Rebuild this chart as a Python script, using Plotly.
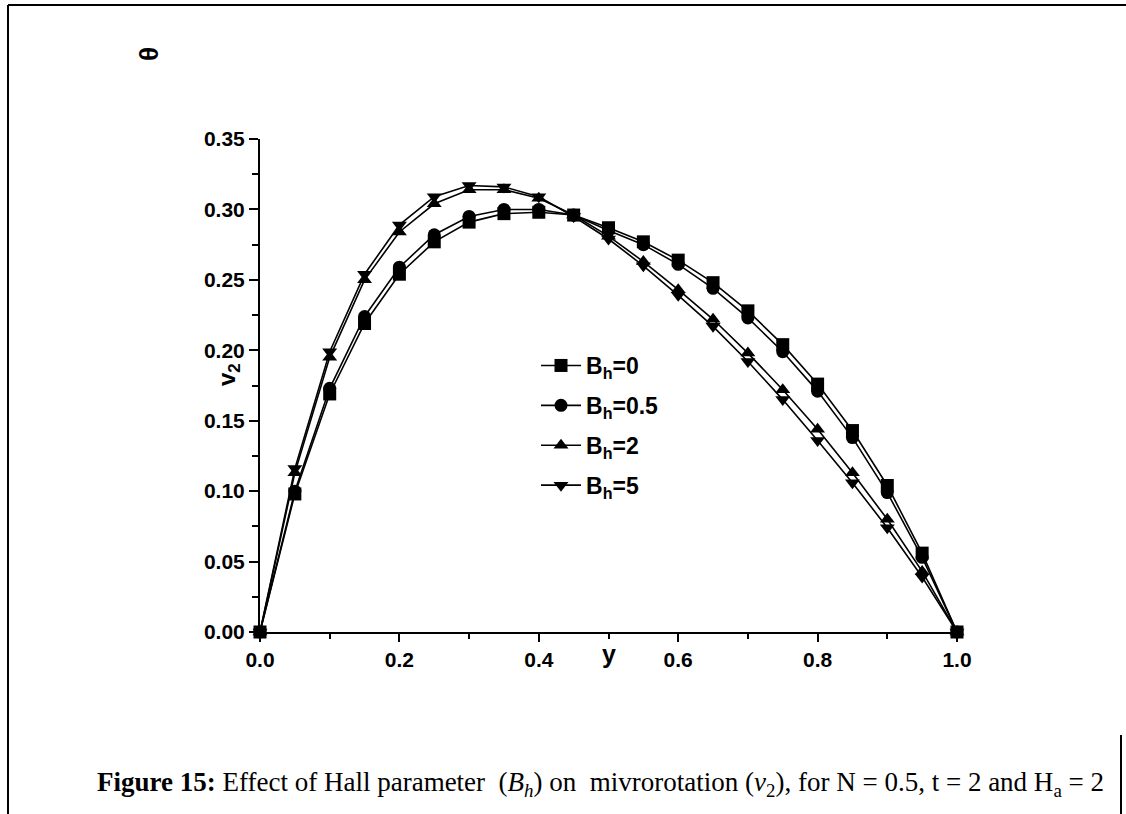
import plotly.graph_objects as go

y_pos = [0.0, 0.05, 0.1, 0.15, 0.2, 0.25, 0.3, 0.35, 0.4, 0.45, 0.5,
         0.55, 0.6, 0.65, 0.7, 0.75, 0.8, 0.85, 0.9, 0.95, 1.0]

v2_bh0 = [0.0, 0.098, 0.169, 0.219, 0.254, 0.277, 0.291, 0.297, 0.298, 0.296, 0.287,
          0.277, 0.264, 0.248, 0.228, 0.204, 0.176, 0.143, 0.104, 0.056, 0.0]
v2_bh05 = [0.0, 0.100, 0.173, 0.224, 0.259, 0.282, 0.295, 0.300, 0.300, 0.296, 0.285,
           0.275, 0.261, 0.244, 0.223, 0.199, 0.171, 0.138, 0.099, 0.053, 0.0]
v2_bh2 = [0.0, 0.113, 0.195, 0.250, 0.284, 0.304, 0.314, 0.314, 0.308, 0.296, 0.281,
          0.263, 0.243, 0.222, 0.198, 0.172, 0.144, 0.113, 0.080, 0.043, 0.0]
v2_bh5 = [0.0, 0.116, 0.199, 0.254, 0.289, 0.309, 0.317, 0.316, 0.309, 0.295, 0.279,
          0.260, 0.239, 0.217, 0.192, 0.165, 0.136, 0.106, 0.074, 0.039, 0.0]

series_names = ["B<sub>h</sub>=0", "B<sub>h</sub>=0.5", "B<sub>h</sub>=2", "B<sub>h</sub>=5"]
series_vals = [v2_bh0, v2_bh05, v2_bh2, v2_bh5]
symbols = ["square", "circle", "triangle-up", "triangle-down"]

W, H = 1126, 814
ML, MR, MT, MB = 260, 169, 139, 182
PW, PH = W - ML - MR, H - MT - MB


def px(xp):
    return (xp - ML) / PW


def py(yp):
    return (H - MB - yp) / PH


fig = go.Figure()
for i, (name, vals, sym) in enumerate(zip(series_names, series_vals, symbols)):
    fig.add_trace(go.Scatter(
        x=y_pos, y=vals, name=name, mode="lines+markers",
        legendgroup=f"g{i}",
        line=dict(color="black", width=1.6),
        marker=dict(symbol=sym, size=13, color="black"),
        cliponaxis=False,
    ))

axis_font = dict(family="Liberation Sans, Arial", size=21, color="black", weight="bold")
fig.update_layout(
    width=W, height=H,
    margin=dict(l=ML, r=MR, t=MT, b=MB, pad=0),
    paper_bgcolor="white", plot_bgcolor="white",
    showlegend=True,
    legend=dict(
        x=px(536), y=py(344), xanchor="left", yanchor="top",
        bgcolor="rgba(0,0,0,0)",
        font=dict(family="Liberation Sans, Arial", size=23, color="black", weight="bold"),
        tracegroupgap=7, itemwidth=40,
    ),
    xaxis=dict(
        range=[0, 1.0], showgrid=False, zeroline=False,
        showline=True, linecolor="black", linewidth=2,
        ticks="outside", ticklen=8, tickwidth=2, tickcolor="black",
        tickvals=[0, 0.2, 0.4, 0.6, 0.8, 1.0],
        ticktext=["0.0", "0.2", "0.4", "0.6", "0.8", "1.0"],
        tickfont=axis_font,
        minor=dict(ticks="outside", ticklen=5, tickwidth=2, tickcolor="black", dtick=0.1),
    ),
    yaxis=dict(
        range=[0, 0.35], showgrid=False, zeroline=False,
        showline=True, linecolor="black", linewidth=2,
        ticks="outside", ticklen=9, tickwidth=2, tickcolor="black",
        tickvals=[0, 0.05, 0.1, 0.15, 0.2, 0.25, 0.3, 0.35],
        ticktext=["0.00", "0.05", "0.10", "0.15", "0.20", "0.25", "0.30", "0.35"],
        tickfont=axis_font,
        minor=dict(ticks="outside", ticklen=6, tickwidth=2, tickcolor="black", dtick=0.025),
    ),
)

# axis titles and stray label
fig.add_annotation(x=px(609), y=py(670), xref="paper", yref="paper", text="y",
                   showarrow=False, font=dict(family="Liberation Sans, Arial", size=25, color="black", weight="bold"))
fig.add_annotation(x=px(228), y=py(375), xref="paper", yref="paper", text="v<sub>2</sub>",
                   textangle=-90, showarrow=False, xanchor="center",
                   font=dict(family="Liberation Sans, Arial", size=24, color="black", weight="bold"))
fig.add_annotation(x=px(132), y=py(45), xref="paper", yref="paper", text="θ",
                   textangle=-90, showarrow=False,
                   font=dict(family="Liberation Sans, Arial", size=26, color="black", weight="bold"))

# caption
fig.add_annotation(
    x=px(600), y=py(784), xref="paper", yref="paper", showarrow=False, yanchor="middle",
    text=("<b>Figure 15:</b> Effect of Hall parameter  (<i>B<sub>h</sub></i>) on  mivrorotation "
          "(<i>v</i><sub>2</sub>), for N = 0.5, t = 2 and H<sub>a</sub> = 2"),
    font=dict(family="Liberation Serif, Times New Roman", size=27, color="black"),
)

# page frame lines
frame = dict(color="black", width=2)
fig.add_shape(type="line", xref="paper", yref="paper", x0=px(8), x1=px(1126), y0=py(5), y1=py(5), line=frame)
fig.add_shape(type="line", xref="paper", yref="paper", x0=px(8), x1=px(8), y0=py(5), y1=py(814), line=frame)
fig.add_shape(type="line", xref="paper", yref="paper", x0=px(1121), x1=px(1121), y0=py(735), y1=py(814), line=frame)

fig.write_html("out.html")
